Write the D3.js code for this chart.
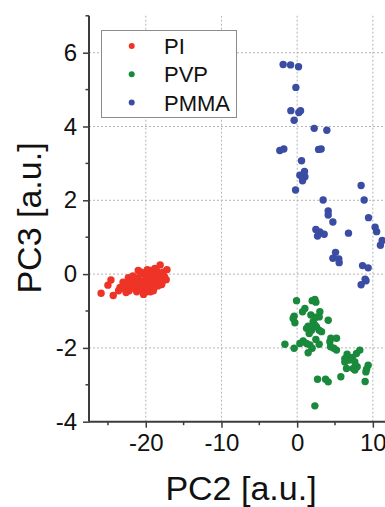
<!DOCTYPE html>
<html lang="en">
  <head>
    <meta charset="UTF-8" />
    <title>PCA scores PC2 vs PC3</title>
    <style>
      body { margin: 0; background: #fff; }
      svg { display: block; font-family: "Liberation Sans", Arial, sans-serif; }
    </style>
  </head>
  <body>
    <script src="https://cdn.jsdelivr.net/npm/d3@7"></script>
    <script>
      // scores: [PC2, PC3]
      var piPoints = [
        [-25.9,-0.52],[-25.0,-0.30],[-24.6,-0.16],[-24.3,-0.58],[-23.4,-0.36],[-23.0,-0.22],
        [-22.8,-0.40],[-22.5,-0.28],[-22.2,-0.45],[-22.0,-0.32],[-21.9,-0.15],[-21.6,-0.38],
        [-21.4,-0.25],[-21.2,-0.48],[-21.0,0.10],[-21.0,-0.10],[-20.8,-0.30],[-20.7,-0.42],
        [-20.5,-0.20],[-20.4,0.02],[-20.2,-0.35],[-20.1,-0.50],[-20.0,-0.12],[-19.9,-0.28],
        [-19.8,0.12],[-19.7,-0.40],[-19.6,-0.05],[-19.5,-0.22],[-19.4,0.10],[-19.4,-0.48],
        [-19.2,-0.32],[-19.1,0.00],[-19.0,-0.15],[-18.9,-0.38],[-18.8,0.15],[-18.7,-0.25],
        [-18.6,-0.05],[-18.5,0.08],[-18.4,-0.32],[-18.3,-0.18],[-18.2,0.02],[-18.1,0.25],
        [-18.0,-0.10],[-17.9,-0.28],[-17.7,0.05],[-17.5,-0.08],[-17.3,-0.15],[-17.2,0.12],
        [-22.3,-0.10],[-21.7,-0.05],[-20.6,0.05],[-23.6,-0.45],[-22.6,-0.50],[-20.3,-0.55],
        [-19.0,-0.45],[-17.8,-0.20]
      ];

      var pvpPoints = [
        [-0.08,-0.72],[1.98,-0.72],[2.34,-0.69],[2.47,-0.76],[1.02,-0.93],[0.71,-1.02],
        [3.0,-1.02],[-0.4,-1.14],[-0.53,-1.20],[1.81,-1.11],[2.47,-1.17],[2.91,-1.16],
        [-0.3,-1.32],[2.11,-1.29],[4.1,-1.25],[1.45,-1.41],[2.34,-1.38],[2.56,-1.43],
        [1.24,-1.47],[1.9,-1.52],[2.91,-1.52],[3.22,-1.56],[1.59,-1.61],[4.45,-1.74],
        [5.2,-1.74],[2.47,-1.77],[4.32,-1.83],[-1.62,-1.90],[0.79,-1.81],[0.36,-1.88],
        [1.24,-1.88],[1.68,-1.92],[2.91,-1.90],[-0.4,-2.01],[1.98,-2.01],[1.45,-2.13],
        [4.41,-1.97],[4.85,-2.01],[5.2,-2.06],[8.28,-2.06],[7.84,-2.15],[6.6,-2.17],
        [7.31,-2.26],[6.3,-2.29],[6.87,-2.33],[6.3,-2.38],[7.62,-2.38],[9.38,-2.47],
        [7.93,-2.51],[7.4,-2.56],[6.52,-2.56],[9.17,-2.58],[9.08,-2.65],[7.62,-2.60],
        [2.69,-2.85],[3.75,-2.85],[4.1,-2.92],[5.77,-2.78],[8.98,-2.91],[2.34,-3.57]
      ];

      var pmmaPoints = [
        [-1.85,5.68],[-0.87,5.67],[0.18,5.62],[-0.17,5.06],[-0.83,4.43],[0.22,4.38],
        [0.45,4.43],[-0.4,4.17],[2.25,3.95],[3.92,3.90],[-2.29,3.35],[-1.76,3.39],
        [2.83,3.38],[3.17,3.39],[0.58,3.07],[0.97,2.78],[0.36,2.68],[0.84,2.64],
        [1.02,2.64],[0.71,2.53],[-0.21,2.28],[8.45,2.40],[8.85,2.01],[3.43,2.01],
        [4.1,1.71],[4.1,1.60],[4.72,1.41],[9.43,1.53],[10.3,1.27],[10.5,1.15],
        [2.47,1.21],[3.0,1.14],[2.69,1.03],[3.57,1.08],[6.78,1.11],[11.23,0.91],
        [11.0,0.78],[5.07,0.59],[4.72,0.43],[5.5,0.41],[5.55,0.31],[8.64,0.23],
        [9.38,0.17],[8.98,-0.14],[9.1,-0.18],[8.45,-0.29]
      ];

      var seriesNames = ["PI", "PVP", "PMMA"];
      var seriesColors = ["#ee3327", "#19893b", "#3a4ca3"];
      var xMajorTicks = [-20, -10, 0, 10];
      var xMinorTicks = [-25, -15, -5, 5];
      var yMajorTicks = [-4, -2, 0, 2, 4, 6];
      var yMinorTicks = [-3, -1, 1, 3, 5, 7];

      var w = 385, h = 507;
      var svg = d3.select("body").append("svg")
                  .attr("width", w)
                  .attr("height", h);

      var xScale = d3.scaleLinear().domain([-27.5, 15]).range([89, 410.7]);
      var yScale = d3.scaleLinear().domain([-4, 7]).range([421.7, 15.8]);

      // plain hyphen minus like the original
      var fmt = function(d) { return String(d); };

      // dotted grid
      svg.append("g").selectAll("line.gx")
         .data(xMajorTicks)
         .enter().append("line")
         .attr("x1", function(d) { return xScale(d); })
         .attr("x2", function(d) { return xScale(d); })
         .attr("y1", yScale(-4))
         .attr("y2", yScale(7))
         .attr("stroke", "#b4b4b4")
         .attr("stroke-width", 1)
         .attr("stroke-dasharray", "2,2");

      svg.append("g").selectAll("line.gy")
         .data(yMajorTicks.filter(function(d) { return d > -4; }))
         .enter().append("line")
         .attr("x1", xScale(-27.5))
         .attr("x2", w)
         .attr("y1", function(d) { return yScale(d); })
         .attr("y2", function(d) { return yScale(d); })
         .attr("stroke", "#b4b4b4")
         .attr("stroke-width", 1)
         .attr("stroke-dasharray", "2,2");

      // points
      var allSeries = [piPoints, pvpPoints, pmmaPoints];
      allSeries.forEach(function(pts, i) {
        svg.append("g").selectAll("circle")
           .data(pts)
           .enter().append("circle")
           .attr("cx", function(d) { return xScale(d[0]); })
           .attr("cy", function(d) { return yScale(d[1]); })
           .attr("r", 3.7)
           .attr("fill", seriesColors[i]);
      });

      // axes
      var xAxis = d3.axisBottom(xScale).tickValues(xMajorTicks).tickSize(6).tickPadding(6)
                    .tickFormat(fmt);
      var yAxis = d3.axisLeft(yScale).tickValues(yMajorTicks).tickSize(6).tickPadding(6)
                    .tickFormat(fmt);

      var gx = svg.append("g")
                  .attr("transform", "translate(0," + yScale(-4) + ")")
                  .call(xAxis);
      var gy = svg.append("g")
                  .attr("transform", "translate(" + xScale(-27.5) + ",0)")
                  .call(yAxis);

      [gx, gy].forEach(function(g) {
        g.select(".domain").attr("stroke", "#3c3c3c").attr("stroke-width", 2);
        g.selectAll(".tick line").attr("stroke", "#3c3c3c").attr("stroke-width", 1.5);
        g.selectAll(".tick text")
         .attr("fill", "#111")
         .style("font-size", "24px")
         .style("font-family", "'Liberation Sans', Arial, sans-serif");
      });
      gx.select(".domain").attr("d", "M" + xScale(-27.5) + ",0H" + (w + 5));
      gy.select(".domain").attr("d", "M0," + yScale(-4) + "V" + yScale(7));

      // minor ticks
      svg.append("g").selectAll("line")
         .data(xMinorTicks)
         .enter().append("line")
         .attr("x1", function(d) { return xScale(d); })
         .attr("x2", function(d) { return xScale(d); })
         .attr("y1", yScale(-4))
         .attr("y2", yScale(-4) + 3.5)
         .attr("stroke", "#3c3c3c")
         .attr("stroke-width", 1.5);

      svg.append("g").selectAll("line")
         .data(yMinorTicks)
         .enter().append("line")
         .attr("x1", xScale(-27.5))
         .attr("x2", xScale(-27.5) - 3.5)
         .attr("y1", function(d) { return yScale(d); })
         .attr("y2", function(d) { return yScale(d); })
         .attr("stroke", "#3c3c3c")
         .attr("stroke-width", 1.5);

      // axis titles
      svg.append("text")
         .attr("x", 241)
         .attr("y", 500)
         .attr("text-anchor", "middle")
         .style("font-size", "34px")
         .attr("fill", "#111")
         .text("PC2 [a.u.]");

      svg.append("text")
         .attr("transform", "translate(41,218) rotate(-90)")
         .attr("text-anchor", "middle")
         .style("font-size", "34px")
         .attr("fill", "#111")
         .text("PC3 [a.u.]");

      // legend
      var legend = svg.append("g");
      legend.append("rect")
            .attr("x", 101.5)
            .attr("y", 30.5)
            .attr("width", 135)
            .attr("height", 87)
            .attr("fill", "#fff")
            .attr("stroke", "#8c8c8c")
            .attr("stroke-width", 1);

      seriesNames.forEach(function(name, i) {
        var cy = 46 + i * 28.3;
        legend.append("circle")
              .attr("cx", 131.7)
              .attr("cy", cy)
              .attr("r", 3)
              .attr("fill", seriesColors[i]);
        legend.append("text")
              .attr("x", 164)
              .attr("y", cy)
              .attr("dy", "0.36em")
              .style("font-size", "22px")
              .attr("fill", "#111")
              .text(name);
      });
    </script>
  </body>
</html>
